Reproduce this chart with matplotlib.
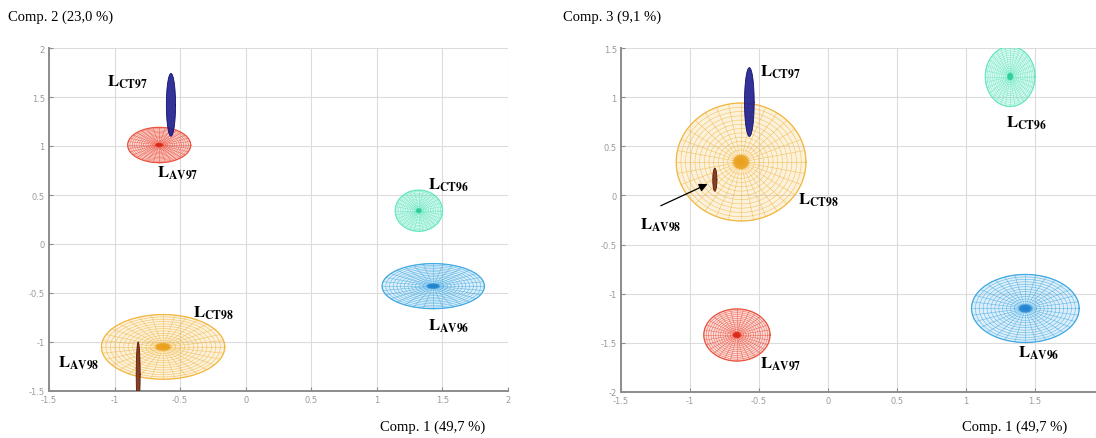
import numpy as np
import matplotlib
matplotlib.use("Agg")
import matplotlib.pyplot as plt
from matplotlib.ticker import FormatStrFormatter

plt.rcParams['mathtext.fontset'] = 'stix'
plt.rcParams['axes.unicode_minus'] = False

# groups (confidence ellipsoids of PCA scores)
groups = ['CT97', 'AV97', 'CT96', 'AV96', 'CT98', 'AV98']
comp1_centre = [-0.57, -0.66, 1.32, 1.43, -0.63, -0.82]
comp1_half = [0.035, 0.24, 0.18, 0.39, 0.47, 0.015]
comp2_centre = [1.42, 1.01, 0.34, -0.43, -1.05, -1.33]
comp2_half = [0.32, 0.18, 0.21, 0.23, 0.33, 0.33]
comp3_centre = [0.95, -1.42, 1.21, -1.15, 0.34, 0.16]
comp3_half = [0.35, 0.265, 0.305, 0.346, 0.60, 0.117]

xticks_2 = [-1.5, -1, -0.5, 0, 0.5, 1, 1.5, 2]
xticks_3 = [-1.5, -1, -0.5, 0, 0.5, 1, 1.5]
yticks_2 = [-1.5, -1, -0.5, 0, 0.5, 1, 1.5, 2]
yticks_3 = [-2, -1.5, -1, -0.5, 0, 0.5, 1, 1.5]

colors = {
    'CT97': '#1c1c8e',
    'AV97': '#ec4a36',
    'CT96': '#5ee6be',
    'AV96': '#3aa6e2',
    'CT98': '#f2b438',
    'AV98': '#7a2c12',
}
centre_colors = {
    'CT97': '#10106a',
    'AV97': '#d81e10',
    'CT96': '#20c890',
    'AV96': '#1a7ccc',
    'CT98': '#e89a10',
    'AV98': '#5a1a08',
}

# label anchors (left edge, vertical centre) in data coords
labels_2 = {
    'CT97': (-1.06, 1.66), 'AV97': (-0.68, 0.73), 'CT96': (1.39, 0.61),
    'AV96': (1.39, -0.83), 'CT98': (-0.40, -0.69), 'AV98': (-1.43, -1.20),
}
labels_3 = {
    'CT97': (-0.49, 1.27), 'AV97': (-0.49, -1.71), 'CT96': (1.29, 0.75),
    'AV96': (1.38, -1.59), 'CT98': (-0.22, -0.04), 'AV98': (-1.36, -0.29),
}


def mesh(ax, cx, cy, a, b, color, dark, solid=False):
    t = np.linspace(0, 2 * np.pi, 120)
    ax.fill(cx + a * np.cos(t), cy + b * np.sin(t), color=color,
            alpha=0.9 if solid else 0.18, lw=0, zorder=3)
    if solid:
        ax.plot(cx + a * np.cos(t), cy + b * np.sin(t), color=dark, lw=0.6,
                zorder=3)
        return
    for r in np.linspace(0.06, 1, 14):
        ax.plot(cx + a * r * np.cos(t), cy + b * r * np.sin(t), color=color,
                lw=0.4, alpha=0.75, zorder=3)
    for s in np.linspace(0, 2 * np.pi, 32, endpoint=False):
        ax.plot([cx, cx + a * np.cos(s)], [cy, cy + b * np.sin(s)],
                color=color, lw=0.4, alpha=0.75, zorder=3)
    ax.plot(cx + a * np.cos(t), cy + b * np.sin(t), color=color, lw=0.9,
            alpha=0.9, zorder=3)
    ax.fill(cx + 0.12 * a * np.cos(t), cy + 0.12 * b * np.sin(t),
            color=dark, alpha=0.8, lw=0, zorder=4)


def setup(ax, xlim, ylim, xticks, yticks):
    ax.set_xlim(*xlim)
    ax.set_ylim(*ylim)
    ax.set_xticks(xticks)
    ax.set_yticks(yticks)
    ax.xaxis.set_major_formatter(FormatStrFormatter('%g'))
    ax.yaxis.set_major_formatter(FormatStrFormatter('%g'))
    ax.grid(True, color='#dcdcdc', lw=0.8)
    ax.set_axisbelow(True)
    for side in ['top', 'right']:
        ax.spines[side].set_visible(False)
    for side in ['left', 'bottom']:
        ax.spines[side].set_color('#8c8c8c')
        ax.spines[side].set_linewidth(1.4)
    ax.tick_params(direction='in', length=3, color='#8c8c8c',
                   labelsize=6, labelcolor='#9a9a9a', pad=3)


def draw(ax, ycentre, yhalf, labels):
    order = ['CT98', 'AV97', 'CT96', 'AV96', 'AV98', 'CT97']
    for g in order:
        i = groups.index(g)
        mesh(ax, comp1_centre[i], ycentre[i], comp1_half[i], yhalf[i],
             colors[g], centre_colors[g], solid=g in ('CT97', 'AV98'))
    for g, (lx, ly) in labels.items():
        ax.text(lx, ly, r'$\mathbf{L}_{\mathbf{%s}}$' % g, fontsize=12,
                ha='left', va='center', zorder=6)


fig = plt.figure(figsize=(10.96, 4.39), dpi=100)
ax1 = fig.add_axes([49 / 1096, 47 / 439, 459 / 1096, 343 / 439])
ax2 = fig.add_axes([621 / 1096, 46 / 439, 475 / 1096, 344 / 439])

setup(ax1, (-1.5, 2), (-1.5, 2), xticks_2, yticks_2)
setup(ax2, (-1.5, -1.5 + 475 / 138), (-2, 1.5), xticks_3, yticks_3)

draw(ax1, comp2_centre, comp2_half, labels_2)
draw(ax2, comp3_centre, comp3_half, labels_3)

ax2.annotate('', xy=(-0.855, 0.127), xytext=(-1.23, -0.117),
             arrowprops=dict(arrowstyle='-|>', color='black', lw=0.9,
                             mutation_scale=12), zorder=7)

serif = 'Liberation Serif'
fig.text(8 / 1096, 1 - 17 / 439, 'Comp. 2 (23,0 %)', family=serif,
         fontsize=10.5, ha='left', va='center')
fig.text(563 / 1096, 1 - 17 / 439, 'Comp. 3 (9,1 %)', family=serif,
         fontsize=10.5, ha='left', va='center')
fig.text(380 / 1096, 1 - 427 / 439, 'Comp. 1 (49,7 %)', family=serif,
         fontsize=10.5, ha='left', va='center')
fig.text(962 / 1096, 1 - 427 / 439, 'Comp. 1 (49,7 %)', family=serif,
         fontsize=10.5, ha='left', va='center')

fig.savefig('out.png', dpi=100)
